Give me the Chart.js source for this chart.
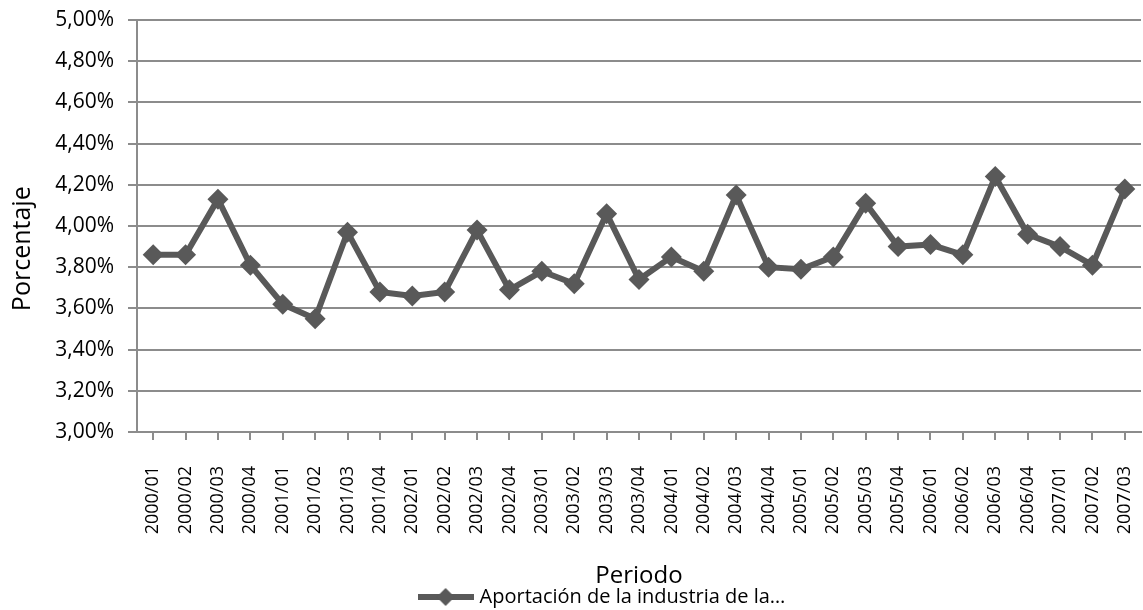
<!DOCTYPE html>
<html>
<head>
<meta charset="utf-8">
<script src="https://cdn.jsdelivr.net/npm/chart.js@4"></script>
<style>
  html, body { margin: 0; padding: 0; background: #fff; }
  #wrap { width: 1143px; height: 610px; }
</style>
</head>
<body>
<div id="wrap"><canvas id="myChart"></canvas></div>
<script>
const periods = [
  '2000/01', '2000/02', '2000/03', '2000/04',
  '2001/01', '2001/02', '2001/03', '2001/04',
  '2002/01', '2002/02', '2002/03', '2002/04',
  '2003/01', '2003/02', '2003/03', '2003/04',
  '2004/01', '2004/02', '2004/03', '2004/04',
  '2005/01', '2005/02', '2005/03', '2005/04',
  '2006/01', '2006/02', '2006/03', '2006/04',
  '2007/01', '2007/02', '2007/03'
];
const aportacion = [
  3.86, 3.86, 4.13, 3.81,
  3.62, 3.55, 3.97, 3.68,
  3.66, 3.68, 3.98, 3.69,
  3.78, 3.72, 4.06, 3.74,
  3.85, 3.78, 4.15, 3.80,
  3.79, 3.85, 4.11, 3.90,
  3.91, 3.86, 4.24, 3.96,
  3.90, 3.81, 4.18
];
const seriesName = 'Aportación de la industria de la…';
const yTicks = { min: 3, max: 5, step: 0.2 };

const grey = '#595959';
const gridGrey = '#8c8c8c';
const font = '"Open Sans", sans-serif';

// legend symbol: line with a diamond on it, like the original
const legendIcon = document.createElement('canvas');
legendIcon.width = 56;
legendIcon.height = 22;
(() => {
  const c = legendIcon.getContext('2d');
  c.strokeStyle = grey;
  c.lineWidth = 6;
  c.beginPath();
  c.moveTo(0, 11);
  c.lineTo(56, 11);
  c.stroke();
  c.fillStyle = grey;
  c.beginPath();
  c.moveTo(28, 2);
  c.lineTo(37, 11);
  c.lineTo(28, 20);
  c.lineTo(19, 11);
  c.closePath();
  c.fill();
})();

// the original legend sits a bit right of the canvas centre
const shiftLegend = {
  id: 'shiftLegend',
  afterLayout(chart) {
    if (chart.legend) {
      chart.legend.left += 33;
      chart.legend.right += 33;
    }
  }
};

const ctx = document.getElementById('myChart');
new Chart(ctx, {
  type: 'line',
  data: {
    labels: periods,
    datasets: [{
      label: seriesName,
      data: aportacion,
      borderColor: grey,
      backgroundColor: grey,
      borderWidth: 6,
      pointStyle: 'rectRot',
      pointRadius: 10.5,
      pointHoverRadius: 10.5,
      pointBackgroundColor: grey,
      pointBorderColor: grey,
      pointBorderWidth: 0,
      tension: 0
    }]
  },
  plugins: [shiftLegend],
  options: {
    responsive: true,
    maintainAspectRatio: false,
    animation: false,
    layout: { autoPadding: false, padding: { left: 0, right: 2, top: 20, bottom: -7 } },
    plugins: {
      tooltip: { enabled: false },
      legend: {
        position: 'bottom',
        labels: {
          color: '#000',
          font: { family: font, size: 20 },
          usePointStyle: true,
          pointStyle: legendIcon,
          pointStyleWidth: 48,
          padding: 0,
          generateLabels: (chart) => [{
            text: seriesName,
            pointStyle: legendIcon,
            fillStyle: grey,
            strokeStyle: grey,
            lineWidth: 0,
            datasetIndex: 0
          }]
        }
      }
    },
    scales: {
      x: {
        offset: true,
        grid: {
          drawOnChartArea: false,
          drawTicks: true,
          tickLength: 8,
          color: gridGrey,
          lineWidth: 2
        },
        border: { color: gridGrey, width: 2 },
        ticks: {
          color: '#000',
          font: { family: font, size: 18 },
          maxRotation: 90,
          minRotation: 90,
          autoSkip: false,
          padding: 26
        },
        title: {
          display: true,
          text: 'Periodo',
          color: '#000',
          font: { family: font, size: 24 },
          padding: { top: 0, bottom: -4 }
        },
        afterFit: (scale) => {
          scale.height = 155;
          scale.paddingRight = 0;
          scale.paddingLeft = 0;
        }
      },
      y: {
        min: yTicks.min,
        max: yTicks.max,
        grid: {
          color: gridGrey,
          lineWidth: 2,
          tickLength: 9
        },
        border: { color: gridGrey, width: 2 },
        ticks: {
          stepSize: yTicks.step,
          color: '#000',
          font: { family: font, size: 21 },
          padding: 14,
          callback: (v) => v.toFixed(2).replace('.', ',') + '%'
        },
        title: {
          display: true,
          // trailing spaces push the title down, as in the original
          text: 'Porcentaje' + '\u00a0'.repeat(7),
          color: '#000',
          font: { family: font, size: 25 },
          padding: { top: 8, bottom: 0 }
        },
        afterFit: (scale) => {
          scale.width = 137;
          scale.paddingTop = 0;
          scale.paddingBottom = 0;
        }
      }
    }
  }
});
</script>
</body>
</html>
